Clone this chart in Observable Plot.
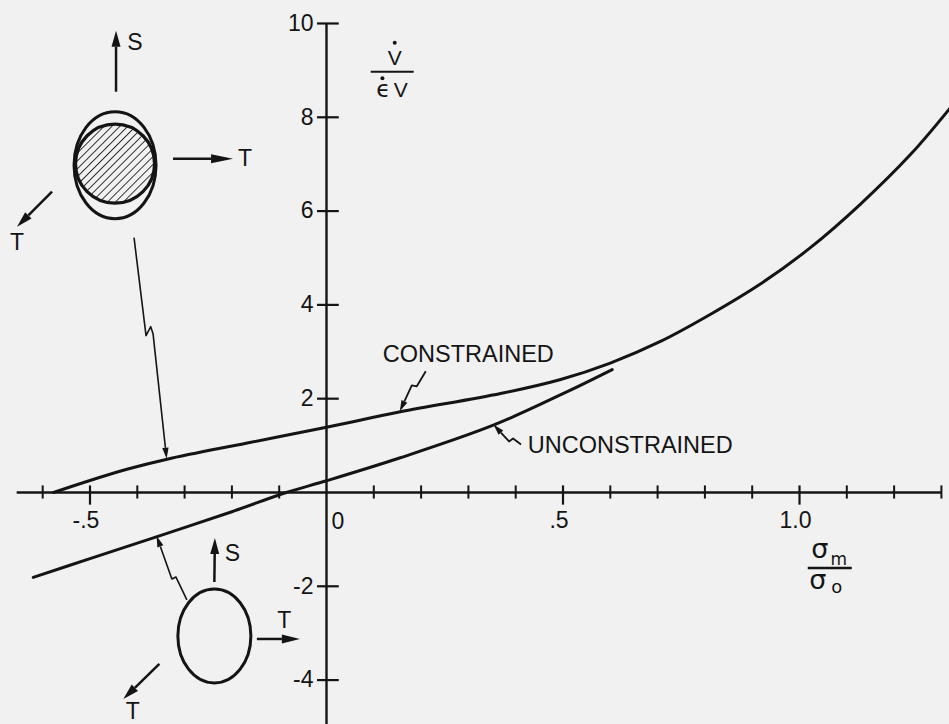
<!DOCTYPE html>
<html>
<head>
<meta charset="utf-8">
<script src="https://cdn.jsdelivr.net/npm/d3@7"></script>
<script src="https://cdn.jsdelivr.net/npm/@observablehq/plot@0.6"></script>
<style>
  html, body { margin: 0; padding: 0; background: #f1f1f1; }
  #chart { width: 949px; height: 724px; overflow: hidden; }
</style>
</head>
<body>
<div id="chart"></div>
<script>
// Volume-change rate (V̇ / ε̇V) against mean stress ratio (σm / σo)
const constrainedSigma = [-0.577, -0.505, -0.42, -0.337, -0.17, 0, 0.156, 0.368, 0.495, 0.60, 0.706, 0.812, 0.918, 1.023, 1.129, 1.235, 1.317];
const constrainedRate  = [0, 0.24, 0.50, 0.71, 1.05, 1.39, 1.72, 2.11, 2.41, 2.76, 3.22, 3.80, 4.45, 5.22, 6.15, 7.21, 8.18];

const unconstrainedSigma = [-0.62, -0.5, -0.358, -0.2, -0.085, 0, 0.156, 0.354, 0.509, 0.604];
const unconstrainedRate  = [-1.81, -1.41, -0.94, -0.41, 0, 0.25, 0.74, 1.44, 2.15, 2.62];

// Axis ticks and their labels
const xMinorTicks = [-0.6, -0.4, -0.3, -0.2, -0.1, 0.1, 0.2, 0.3, 0.4, 0.6, 0.7, 0.8, 0.9, 1.1, 1.2, 1.3];
const xMajorTicks = [-0.5, 0.5, 1.0];
const xMajorLabels = ["-.5", ".5", "1.0"];
const yTicks = [-4, -2, 2, 4, 6, 8, 10];
const yTickLabels = ["-4", "-2", "2", "4", "6", "8", "10"];

// Where the annotation sketches sit (data units) and where the axis titles go
const sketchCenters = [[-0.446, 7.0], [-0.236, -3.07]];
const yTitleAt = [0.14, 8.96];
const xTitleAt = [1.065, -1.62];

const constrained = constrainedSigma.map((x, i) => ({x, y: constrainedRate[i]}));
const unconstrained = unconstrainedSigma.map((x, i) => ({x, y: unconstrainedRate[i]}));
const xMajor = xMajorTicks.map((x, i) => ({x, label: xMajorLabels[i]}));
const yMajor = yTicks.map((y, i) => ({y, label: yTickLabels[i]}));

const INK = "#141414";
const FONT = "'Liberation Sans', Arial, sans-serif";

function arrowHead(g, x1, y1, x2, y2, len, half) {
  const a = Math.atan2(y2 - y1, x2 - x1);
  const bx = x2 - len * Math.cos(a), by = y2 - len * Math.sin(a);
  const px = -Math.sin(a) * half, py = Math.cos(a) * half;
  g.append("path")
    .attr("d", `M${x2},${y2}L${bx + px},${by + py}L${bx - px},${by - py}Z`)
    .attr("fill", INK).attr("stroke", "none");
  return [bx, by];
}

function arrow(g, x1, y1, x2, y2, len, half, w) {
  const [bx, by] = arrowHead(g, x1, y1, x2, y2, len, half);
  g.append("line").attr("x1", x1).attr("y1", y1).attr("x2", bx).attr("y2", by)
    .attr("stroke-width", w);
}

function leader(g, pts, len, half, w) {
  const n = pts.length;
  const [x1, y1] = pts[n - 2], [x2, y2] = pts[n - 1];
  const [bx, by] = arrowHead(g, x1, y1, x2, y2, len, half);
  const line = pts.slice(0, n - 1).concat([[bx, by]]);
  g.append("path").attr("d", d3.line()(line)).attr("stroke-width", w)
    .attr("stroke-linejoin", "round");
}

function label(g, x, y, text, size, anchor = "middle", family = FONT) {
  g.append("text").attr("x", x).attr("y", y + 0.36 * size)
    .attr("text-anchor", anchor).attr("font-size", size)
    .attr("font-family", family)
    .attr("fill", INK).attr("stroke", "none").text(text);
}

// Stress-state sketches, leaders and axis titles, placed through the plot scales
function annotations(index, scales) {
  const X = scales.x, Y = scales.y;
  const g = d3.create("svg:g").attr("fill", "none").attr("stroke", INK);

  const pat = g.append("defs").append("pattern")
    .attr("id", "hatch").attr("patternUnits", "userSpaceOnUse")
    .attr("width", 5.6).attr("height", 5.6)
    .attr("patternTransform", "rotate(45)");
  pat.append("line").attr("x1", 0).attr("y1", 0).attr("x2", 0).attr("y2", 5.6)
    .attr("stroke", INK).attr("stroke-width", 1.7);

  // constrained specimen: ellipse around hatched core
  const c1x = X(sketchCenters[0][0]), c1y = Y(sketchCenters[0][1]);
  g.append("ellipse").attr("cx", c1x).attr("cy", c1y + 1.5).attr("rx", 41).attr("ry", 53.5)
    .attr("stroke-width", 3);
  g.append("circle").attr("cx", c1x).attr("cy", c1y).attr("r", 39.5)
    .attr("fill", "url(#hatch)").attr("stroke-width", 3.2);
  arrow(g, c1x + 1, c1y - 72, c1x + 1, c1y - 133, 16, 4.5, 2.5);
  arrow(g, c1x + 58, c1y - 5, c1x + 118, c1y - 5, 22, 4.5, 2.5);
  arrow(g, c1x - 63, c1y + 28, c1x - 98, c1y + 63, 16, 4.5, 2.5);
  label(g, c1x + 20, c1y - 122, "S", 23);
  label(g, c1x + 130, c1y - 5.5, "T", 23);
  label(g, c1x - 98, c1y + 78, "T", 23);
  const t1 = constrained[3];
  leader(g, [[c1x + 19, c1y + 74], [c1x + 31, c1y + 172], [c1x + 35.7, c1y + 163],
             [c1x + 38, c1y + 170], [X(t1.x), Y(t1.y)]], 11, 3.2, 1.6);

  // unconstrained specimen: plain ellipse
  const c2x = X(sketchCenters[1][0]), c2y = Y(sketchCenters[1][1]);
  g.append("ellipse").attr("cx", c2x).attr("cy", c2y).attr("rx", 36.5).attr("ry", 47)
    .attr("stroke-width", 3);
  arrow(g, c2x, c2y - 54, c2x + 0.5, c2y - 98, 16, 4.5, 2.5);
  arrow(g, c2x + 42.5, c2y + 3, c2x + 85.5, c2y + 3, 18, 4.5, 2.5);
  arrow(g, c2x - 55, c2y + 28, c2x - 91, c2y + 63, 16, 4.5, 2.5);
  label(g, c2x + 18, c2y - 83, "S", 23);
  label(g, c2x + 70, c2y - 16, "T", 23);
  label(g, c2x - 81.5, c2y + 75, "T", 23);
  const t2 = unconstrained[2];
  leader(g, [[c2x - 27.5, c2y - 36], [c2x - 38.5, c2y - 59], [c2x - 42.5, c2y - 57],
             [X(t2.x), Y(t2.y)]], 11, 3.2, 1.6);

  // curve names
  const p1 = constrained[6], p1x = X(p1.x), p1y = Y(p1.y);
  leader(g, [[p1x + 26, p1y - 40], [p1x + 17, p1y - 25], [p1x + 12, p1y - 26], [p1x, p1y]], 11, 3.2, 1.8);
  label(g, p1x + 68.5, p1y - 58, "CONSTRAINED", 23.5);
  const p2 = unconstrained[7], p2x = X(p2.x), p2y = Y(p2.y);
  leader(g, [[p2x + 27.6, p2y + 20], [p2x + 19.6, p2y + 14], [p2x + 15.6, p2y + 17], [p2x, p2y]], 11, 3.2, 1.8);
  label(g, p2x + 34.3, p2y + 19.6, "UNCONSTRAINED", 23.5, "start");

  // y title: V̇ over ε̇V
  const yx = X(yTitleAt[0]), yy = Y(yTitleAt[1]);
  g.append("line").attr("x1", yx - 21.5).attr("x2", yx + 21.5).attr("y1", yy).attr("y2", yy)
    .attr("stroke-width", 2.2);
  g.append("text").attr("x", yx + 2.5).attr("y", yy - 6.5).attr("text-anchor", "middle")
    .attr("font-size", 21).attr("font-family", FONT).attr("fill", INK).attr("stroke", "none").text("V");
  g.append("circle").attr("cx", yx + 2.5).attr("cy", yy - 29).attr("r", 2).attr("fill", INK).attr("stroke", "none");
  g.append("text").attr("x", yx - 9).attr("y", yy + 25.3).attr("text-anchor", "middle")
    .attr("font-size", 23).attr("font-family", "'DejaVu Sans', sans-serif").attr("fill", INK).attr("stroke", "none").text("ϵ");
  g.append("circle").attr("cx", yx - 9.8).attr("cy", yy + 6.6).attr("r", 2).attr("fill", INK).attr("stroke", "none");
  g.append("text").attr("x", yx + 8.5).attr("y", yy + 25.3).attr("text-anchor", "middle")
    .attr("font-size", 21).attr("font-family", FONT).attr("fill", INK).attr("stroke", "none").text("V");

  // x title: σm over σo
  const xx = X(xTitleAt[0]), xy = Y(xTitleAt[1]);
  g.append("line").attr("x1", xx - 22).attr("x2", xx + 22).attr("y1", xy).attr("y2", xy)
    .attr("stroke-width", 2.4);
  const sub = (x, y, t, s) => g.append("text").attr("x", x).attr("y", y).attr("text-anchor", "middle")
    .attr("font-size", s).attr("font-family", "'DejaVu Sans', sans-serif").attr("fill", INK)
    .attr("stroke", "none").text(t);
  sub(xx - 10, xy - 10, "σ", 27);
  sub(xx + 9, xy - 3, "m", 17);
  sub(xx - 12, xy + 21, "σ", 27);
  sub(xx + 7, xy + 25, "o", 18);

  return g.node();
}

const chart = Plot.plot({
  width: 949,
  height: 724,
  margin: 0,
  x: {domain: [-0.6892, 1.3171], axis: null},
  y: {domain: [-4.947, 10.49], axis: null},
  style: {background: "#f1f1f1", color: INK, fontFamily: FONT},
  marks: [
    // axes through the origin
    Plot.ruleY([0], {x1: -0.654, x2: 1.3, stroke: INK, strokeWidth: 2.4}),
    Plot.ruleX([0], {y1: -5.2, y2: 10, stroke: INK, strokeWidth: 2.4}),
    Plot.ruleX(xMinorTicks, {y1: -0.14, y2: 0.14, stroke: INK, strokeWidth: 2}),
    Plot.ruleX(xMajor, {x: "x", y1: -0.27, y2: 0.14, stroke: INK, strokeWidth: 2.2}),
    Plot.ruleY(yTicks, {x1: -0.019, x2: 0.027, stroke: INK, strokeWidth: 2.2}),
    Plot.text(xMajor, {x: "x", y: 0, text: "label", dy: 28, dx: -4, fontSize: 23, fill: INK}),
    Plot.text([0], {x: 0, y: 0, text: ["0"], dy: 29, dx: 11.5, fontSize: 23, fill: INK}),
    Plot.text(yMajor, {x: 0, y: "y", text: "label", dx: -13, textAnchor: "end", fontSize: 23, fill: INK}),
    // curves
    Plot.line(constrained, {x: "x", y: "y", stroke: INK, strokeWidth: 3, curve: "catmull-rom"}),
    Plot.line(unconstrained, {x: "x", y: "y", stroke: INK, strokeWidth: 3, curve: "catmull-rom"}),
    annotations
  ]
});

document.getElementById("chart").append(chart);
</script>
</body>
</html>
